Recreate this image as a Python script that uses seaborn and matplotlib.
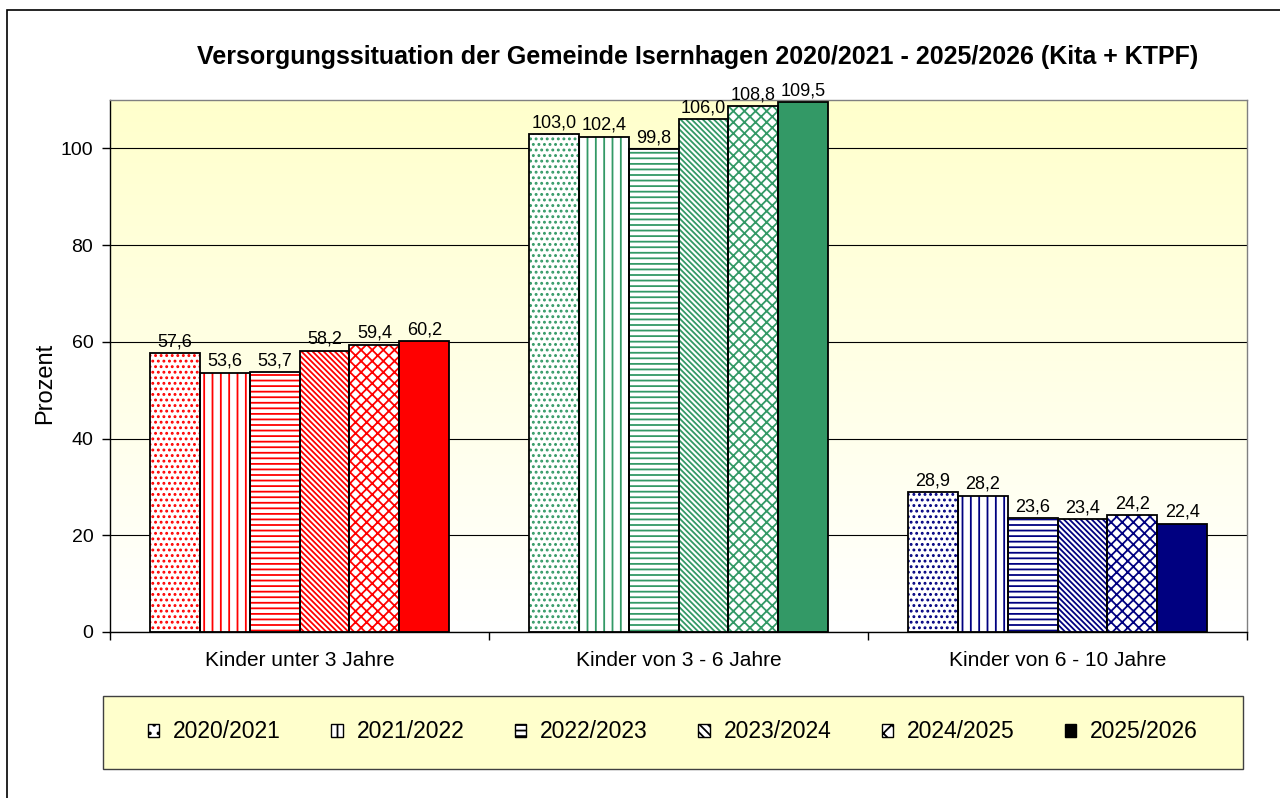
import numpy as np
import pandas as pd
import seaborn as sns
import matplotlib.pyplot as plt
from matplotlib.patches import Patch, Rectangle
from matplotlib.colors import LinearSegmentedColormap

# data
categories = ["Kinder unter 3 Jahre", "Kinder von 3 - 6 Jahre", "Kinder von 6 - 10 Jahre"]
seasons = ["2020/2021", "2021/2022", "2022/2023", "2023/2024", "2024/2025", "2025/2026"]
unter_3 = [57.6, 53.6, 53.7, 58.2, 59.4, 60.2]
von_3_bis_6 = [103.0, 102.4, 99.8, 106.0, 108.8, 109.5]
von_6_bis_10 = [28.9, 28.2, 23.6, 23.4, 24.2, 22.4]

group_colors = ["#FF0000", "#339966", "#000080"]
hatches = ["...", "||", "---", "\\\\\\\\\\\\", "xxx", None]
legend_hatches = ["..", "||", "---", "\\\\\\\\", "xx", None]

rows = []
for cat, vals in zip(categories, [unter_3, von_3_bis_6, von_6_bis_10]):
    for season, v in zip(seasons, vals):
        rows.append({"Gruppe": cat, "Jahr": season, "Prozent": v})
df = pd.DataFrame(rows)

sns.set_theme(style="white")
plt.rcParams['font.family'] = ['Liberation Sans', 'DejaVu Sans']
plt.rcParams['hatch.linewidth'] = 1.3
plt.rcParams['text.color'] = "black"
plt.rcParams['axes.labelcolor'] = "black"
plt.rcParams['xtick.color'] = "black"
plt.rcParams['ytick.color'] = "black"

fig = plt.figure(figsize=(12.8, 7.98), dpi=100)
ax = fig.add_axes([110 / 1280, 1 - 632 / 798, 1137 / 1280, 532 / 798])

# gradient background of the plot area
bg = LinearSegmentedColormap.from_list("bg", ["#FFFFFF", "#FFFFCC"])
ax.imshow(np.linspace(0, 1, 256)[:, None], cmap=bg, extent=(0, 1, 0, 1),
          transform=ax.transAxes, aspect="auto", origin="lower", zorder=0)

# layer 1: fill + coloured hatch
sns.barplot(data=df, x="Gruppe", y="Prozent", hue="Jahr", order=categories,
            hue_order=seasons, width=0.79, errorbar=None, legend=False, ax=ax, zorder=2)
# layer 2: black outlines
sns.barplot(data=df, x="Gruppe", y="Prozent", hue="Jahr", order=categories,
            hue_order=seasons, width=0.79, errorbar=None, legend=False, fill=False,
            ax=ax, zorder=3)

fill_layer = ax.containers[:6]
edge_layer = ax.containers[6:]
for j, cont in enumerate(fill_layer):
    for bar in cont:
        i = int(round(bar.get_x() + bar.get_width() / 2))
        c = group_colors[i]
        if hatches[j] is None:
            bar.set_facecolor(c)
            bar.set_edgecolor(c)
        else:
            bar.set_facecolor("white")
            bar.set_hatch(hatches[j])
            bar.set_edgecolor(c)
        bar.set_linewidth(0)

for cont in edge_layer:
    for bar in cont:
        bar.set_facecolor("none")
        bar.set_edgecolor("black")
        bar.set_linewidth(1.3)
    ax.bar_label(cont, labels=[f"{v:.1f}".replace(".", ",") for v in cont.datavalues],
                 padding=2, fontsize=13, color="black", zorder=4)

ax.set_xlim(-0.5, 2.5)
ax.set_ylim(0, 110)
ax.set_yticks(range(0, 101, 20))
ax.yaxis.grid(True, color="black", lw=0.8)
ax.set_axisbelow(True)

ax.set_xticks([-0.5, 0.5, 1.5, 2.5], minor=True)
ax.tick_params(axis="x", which="major", length=0, pad=14, labelsize=15)
ax.tick_params(axis="x", which="minor", bottom=True, length=6, width=1, color="black", direction="out")
ax.tick_params(axis="y", left=True, length=6, width=1, color="black", direction="out",
               labelsize=14, pad=6)

for side in ["left", "bottom"]:
    ax.spines[side].set_color("black")
    ax.spines[side].set_linewidth(1.0)
for side in ["top", "right"]:
    ax.spines[side].set_color("#808080")
    ax.spines[side].set_linewidth(1.0)

ax.set_xlabel("")
ax.set_ylabel("Prozent", fontsize=17)
ax.yaxis.set_label_coords(-0.047, 0.468)

fig.text(698 / 1280, 1 - 57 / 798,
         "Versorgungssituation der Gemeinde Isernhagen 2020/2021 - 2025/2026 (Kita + KTPF)",
         ha="center", va="center", fontsize=18, weight="bold")

# legend box
fig.add_artist(Rectangle((103 / 1280, 1 - 769 / 798), 1140 / 1280, 73 / 798,
                         transform=fig.transFigure, facecolor="#FFFFCC",
                         edgecolor="#404040", lw=1.0, zorder=0))
handles = []
for h in legend_hatches:
    if h is None:
        handles.append(Patch(facecolor="black", edgecolor="black"))
    else:
        handles.append(Patch(facecolor="white", edgecolor="black", hatch=h))
fig.legend(handles, seasons, loc="center", bbox_to_anchor=(673 / 1280, 1 - 732 / 798),
           ncol=6, fontsize=16.5, frameon=False, handlelength=0.5, handleheight=0.5,
           handletextpad=0.6, columnspacing=2.2)

# outer chart border
fig.add_artist(Rectangle((7 / 1280, -0.1), 1.2, 1.1 - 10 / 798,
                         transform=fig.transFigure, facecolor="none",
                         edgecolor="black", lw=1.2))

fig.savefig("out.png", dpi=100)
